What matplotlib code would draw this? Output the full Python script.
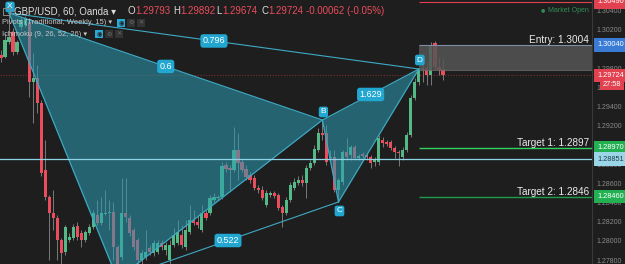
import matplotlib
matplotlib.use('Agg')
import matplotlib.pyplot as plt
from matplotlib.patches import Rectangle, Polygon

plt.rcParams['font.family'] = ['Liberation Sans', 'DejaVu Sans']

# ---------------------------------------------------------------------------
# GBP/USD 60 min candles
# ---------------------------------------------------------------------------
opens = [1.29936, 1.29915, 1.30071, 1.30175, 1.29967, 1.30228, 1.30249, 1.30280, 1.29655, 1.29697,
         1.29436, 1.28738, 1.28457, 1.28290, 1.28238, 1.28009, 1.27884, 1.28009, 1.28030, 1.28154,
         1.28082, 1.28009, 1.28082, 1.28144, 1.28269, 1.28186, 1.28279, 1.28290, 1.28300, 1.27936,
         1.27832, 1.28290, 1.28238, 1.28113, 1.28009, 1.27801, 1.27832, 1.27926, 1.27874, 1.27884,
         1.27978, 1.27905, 1.27801, 1.27957, 1.27978, 1.28061, 1.27936, 1.28092, 1.28217, 1.28196,
         1.28113, 1.28290, 1.28290, 1.28426, 1.28447, 1.28457, 1.28790, 1.28759, 1.28738, 1.28946,
         1.28821, 1.28748, 1.28686, 1.28655, 1.28551, 1.28530, 1.28374, 1.28478, 1.28499, 1.28478,
         1.28353, 1.28290, 1.28426, 1.28551, 1.28603, 1.28634, 1.28603, 1.28759, 1.28811, 1.28946,
         1.29124, 1.29124, 1.28863, 1.28873, 1.28530, 1.28613, 1.28925, 1.28894, 1.28977, 1.28863,
         1.28904, 1.28894, 1.28873, 1.28821, 1.28821, 1.29051, 1.29030, 1.29030, 1.28967, 1.28925,
         1.28873, 1.28946, 1.29103, 1.29488, 1.29655, 1.29780, 1.29800, 1.29728, 1.30061, 1.29811,
         1.29793]
highs = [1.29988, 1.30165, 1.30374, 1.30218, 1.30092, 1.30342, 1.30342, 1.30322, 1.29957, 1.29832,
         1.29467, 1.29051, 1.28478, 1.28530, 1.28269, 1.28030, 1.28165, 1.28082, 1.28175, 1.28196,
         1.28113, 1.28113, 1.28175, 1.28321, 1.28426, 1.28457, 1.28530, 1.28426, 1.28405, 1.27957,
         1.28655, 1.28655, 1.28269, 1.28134, 1.28030, 1.27905, 1.28113, 1.27957, 1.28009, 1.28009,
         1.28009, 1.27988, 1.28009, 1.28134, 1.28217, 1.28165, 1.28217, 1.28374, 1.28321, 1.28269,
         1.28374, 1.28321, 1.28478, 1.28499, 1.28478, 1.28821, 1.28821, 1.28790, 1.29186, 1.29124,
         1.28863, 1.28790, 1.28717, 1.28686, 1.28582, 1.28571, 1.28530, 1.28520, 1.28520, 1.28499,
         1.28374, 1.28457, 1.28613, 1.28655, 1.28676, 1.28686, 1.28790, 1.28842, 1.28998, 1.29176,
         1.29259, 1.29207, 1.28946, 1.28946, 1.28655, 1.28946, 1.29072, 1.28998, 1.28998, 1.28904,
         1.28925, 1.28915, 1.28894, 1.28873, 1.29103, 1.29082, 1.29051, 1.29051, 1.28988, 1.28946,
         1.28977, 1.29134, 1.29519, 1.29697, 1.29790, 1.29863, 1.29863, 1.30071, 1.30082, 1.29915,
         1.29892]
lows = [1.29863, 1.29905, 1.30050, 1.29936, 1.29946, 1.30196, 1.30228, 1.29498, 1.29228, 1.29332,
        1.28675, 1.28426, 1.27801, 1.28113, 1.27801, 1.27740, 1.27853, 1.27988, 1.28009, 1.28009,
        1.27936, 1.27988, 1.28061, 1.28123, 1.28165, 1.28165, 1.28269, 1.28113, 1.27801, 1.27602,
        1.27801, 1.28196, 1.28050, 1.27905, 1.27740, 1.27760, 1.27801, 1.27853, 1.27842, 1.27863,
        1.27905, 1.27853, 1.27738, 1.27936, 1.27957, 1.27926, 1.27905, 1.28071, 1.28165, 1.28134,
        1.28092, 1.28217, 1.28269, 1.28405, 1.28426, 1.28436, 1.28717, 1.28530, 1.28717, 1.28634,
        1.28717, 1.28634, 1.28603, 1.28530, 1.28499, 1.28426, 1.28353, 1.28457, 1.28447, 1.28321,
        1.28144, 1.28269, 1.28405, 1.28530, 1.28582, 1.28571, 1.28447, 1.28738, 1.28790, 1.28925,
        1.29051, 1.28790, 1.28842, 1.28509, 1.28405, 1.28582, 1.28842, 1.28842, 1.28842, 1.28842,
        1.28863, 1.28842, 1.28759, 1.28780, 1.28790, 1.28977, 1.28988, 1.28946, 1.28863, 1.28780,
        1.28842, 1.28925, 1.29082, 1.29467, 1.29623, 1.29655, 1.29623, 1.29623, 1.29780, 1.29728,
        1.29674]
closes = [1.29905, 1.30092, 1.30123, 1.29967, 1.30071, 1.30301, 1.30322, 1.29655, 1.29697, 1.29436,
          1.28707, 1.28457, 1.28290, 1.28238, 1.28009, 1.27874, 1.28144, 1.28040, 1.28144, 1.28040,
          1.28009, 1.28092, 1.28144, 1.28290, 1.28186, 1.28290, 1.28290, 1.28300, 1.27936, 1.27696,
          1.28290, 1.28248, 1.28082, 1.27936, 1.27801, 1.27874, 1.27884, 1.27884, 1.27978, 1.27978,
          1.27936, 1.27957, 1.27957, 1.28061, 1.28092, 1.27957, 1.28113, 1.28217, 1.28186, 1.28165,
          1.28290, 1.28238, 1.28447, 1.28457, 1.28457, 1.28779, 1.28748, 1.28738, 1.28946, 1.28811,
          1.28738, 1.28665, 1.28634, 1.28551, 1.28530, 1.28447, 1.28499, 1.28499, 1.28468, 1.28342,
          1.28290, 1.28426, 1.28582, 1.28613, 1.28634, 1.28603, 1.28759, 1.28811, 1.28957, 1.29124,
          1.29103, 1.28821, 1.28873, 1.28530, 1.28634, 1.28925, 1.28873, 1.28977, 1.28863, 1.28884,
          1.28884, 1.28873, 1.28811, 1.28842, 1.29072, 1.29020, 1.29009, 1.28967, 1.28925, 1.28915,
          1.28946, 1.29103, 1.29488, 1.29655, 1.29780, 1.29800, 1.29728, 1.30040, 1.29811, 1.29780,
          1.29724]

# harmonic pattern pivots: (bar index, price)
pattern_names = ['X', 'A', 'B', 'C', 'D']
pattern_bars = [2, 29, 80, 84, 104]
pattern_prices = [1.30374, 1.27602, 1.29259, 1.28405, 1.29790]
# ratio labels sit on the mid point of these legs
ratio_legs = [('X', 'D', '0.796'), ('X', 'B', '0.6'), ('B', 'D', '1.629'), ('A', 'C', '0.522')]

entry = 1.3004
zone_low = 1.2978
target1 = 1.2897
target2 = 1.2846
pivot_r = 1.3049
last_price = 1.29724
cross_price = 1.28851
yticks = [1.278, 1.280, 1.282, 1.284, 1.286, 1.288, 1.290, 1.292, 1.294, 1.296,
          1.298, 1.300, 1.302, 1.304]
hidden_ticks = [1.290, 1.300]   # fully covered by the price tags

BG = '#1e1e1e'
UP, DOWN, WICK = '#53b987', '#eb4d5c', '#7a7a7a'
PAT_FILL, PAT_LINE, PAT_LABEL = '#2a9cb2', '#3ea9c4', '#22a7d0'

W, H = 625, 264
fig = plt.figure(figsize=(W / 100, H / 100), dpi=100, facecolor=BG)
ax = fig.add_axes([0, 0, 592 / W, 1], facecolor=BG)

n = len(opens)
xs = list(range(n))
x_right = 147.1

# candles
for i in xs:
    o, h, l, c = opens[i], highs[i], lows[i], closes[i]
    col = UP if c >= o else DOWN
    ax.vlines(i, l, h, color=WICK, lw=0.7, zorder=2)
    ax.bar(i, max(abs(c - o), 0.00003), bottom=min(o, c), width=0.8,
           color=col, lw=0, zorder=2.5)

# horizontal lines
ax.axhline(last_price, color='#7a2c33', lw=0.8, ls=(0, (1, 1.5)), zorder=1)
ax.axhline(cross_price, color='#8fd3e6', lw=0.9, zorder=6)

# harmonic pattern
pts = {k: (b, p) for k, b, p in zip(pattern_names, pattern_bars, pattern_prices)}
for tri in (('X', 'A', 'B'), ('B', 'C', 'D')):
    ax.add_patch(Polygon([pts[k] for k in tri], closed=True, fc=PAT_FILL,
                         alpha=0.55, lw=0, zorder=3))
for a, b in zip(pattern_names[:-1], pattern_names[1:]):
    ax.plot([pts[a][0], pts[b][0]], [pts[a][1], pts[b][1]], color=PAT_LINE, lw=0.9, zorder=4)
for a, b, txt in ratio_legs:
    ax.plot([pts[a][0], pts[b][0]], [pts[a][1], pts[b][1]], color=PAT_LINE, lw=0.8, zorder=4)
    mx = (pts[a][0] + pts[b][0]) / 2
    my = (pts[a][1] + pts[b][1]) / 2
    ax.text(mx, my, txt, color='white', fontsize=6.5, ha='center', va='center', zorder=7,
            bbox=dict(boxstyle='round,pad=0.25,rounding_size=0.3', fc=PAT_LABEL, ec='none'))
label_off = {'X': 6, 'A': -9, 'B': 8, 'C': -9, 'D': 9}
for k in pattern_names:
    if k == 'A':
        continue
    ax.annotate(k, pts[k], xytext=(1, label_off[k]), textcoords='offset pixels',
                color='white', fontsize=6, ha='center', va='center', zorder=8,
                bbox=dict(boxstyle='round,pad=0.22,rounding_size=0.25', fc=PAT_LABEL, ec='none'))

# entry zone + targets
d_bar = pts['D'][0]
ax.add_patch(Rectangle((d_bar, zone_low), x_right - d_bar, entry - zone_low,
                       fc='#555555', ec='none', alpha=0.85, zorder=3))
ax.hlines(entry, d_bar, x_right, color='#7f8ea6', lw=0.8, zorder=4)
ax.hlines(zone_low, d_bar, x_right, color='#6a6a6a', lw=0.6, zorder=4)
ax.hlines(target1, d_bar, x_right, color='#2fd160', lw=1.0, zorder=4)
ax.hlines(target2, d_bar, x_right, color='#1f9a4a', lw=1.0, zorder=4)
ax.hlines(pivot_r, d_bar, x_right, color='#e2414f', lw=0.8, zorder=4)
for price, txt in ((entry, 'Entry: 1.3004'), (target1, 'Target 1: 1.2897'),
                   (target2, 'Target 2: 1.2846')):
    ax.annotate(txt, (x_right, price), xytext=(-3, 5), textcoords='offset pixels',
                color='#ececec', fontsize=7.2, ha='right', va='center', zorder=8)

ax.set_xlim(-0.25, x_right)
ax.set_ylim(1.2775875, 1.3050875)
ax.set_xticks([])
ax.yaxis.tick_right()
ax.set_yticks(yticks)
ax.set_yticklabels(['' if t in hidden_ticks else f'{t:.5f}' for t in yticks])
ax.tick_params(axis='y', length=0, pad=3.5, labelsize=5, labelcolor='#8a8a8a')
for side in ('top', 'left', 'bottom'):
    ax.spines[side].set_visible(False)
ax.spines['right'].set_color('#3a3a3a')
ax.spines['right'].set_linewidth(0.8)

# price scale tags
yt = ax.get_yaxis_transform()
tags = [(pivot_r, '1.30490', '#e2414f', 'white'),
        (entry, '1.30040', '#3a7bd5', 'white'),
        (last_price, '1.29724', '#e2414f', 'white'),
        (target1, '1.28970', '#22b052', 'white'),
        (cross_price, '1.28851', '#9ad6e8', '#1e3f4a'),
        (target2, '1.28460', '#22b052', 'white')]
for price, txt, fc, tc in tags:
    ax.text(1.0 + 5 / 592, price, txt, transform=yt, ha='left', va='center',
            fontsize=5.3, color=tc, clip_on=False, zorder=9,
            bbox=dict(boxstyle='square,pad=0.45', fc=fc, ec='none'))
ax.annotate('27:58', (1.0, last_price), xycoords=yt, xytext=(11, -9),
            textcoords='offset pixels', ha='left', va='center', fontsize=5.3,
            color='white', annotation_clip=False, zorder=9,
            bbox=dict(boxstyle='square,pad=0.35', fc='#e2414f', ec='none'))

# ---------------------------------------------------------------------------
# legend / header texts (figure pixel positions)
# ---------------------------------------------------------------------------
def fx(x):
    return x / W


def fy(y):
    return 1 - y / H


fig.patches.append(Rectangle((fx(3), fy(15)), 7 / W, 7 / H, transform=fig.transFigure,
                             fc='none', ec='#8a8a8a', lw=0.7))
fig.text(fx(14), fy(11), 'GBP/USD, 60, Oanda \u25be', color='#dcdcdc', fontsize=7, va='center')
pieces = [(128, 'O', '#dcdcdc'), (135, '1.29793', DOWN), (173, 'H', '#dcdcdc'),
          (180, '1.29892', DOWN), (216, 'L', '#dcdcdc'), (222, '1.29674', DOWN),
          (261, 'C', '#dcdcdc'), (268, '1.29724', DOWN), (306, '-0.00062 (-0.05%)', DOWN)]
for x, txt, col in pieces:
    fig.text(fx(x), fy(11), txt, color=col, fontsize=7, va='center')

for y, txt, ix in ((23, 'Pivots (Traditional, Weekly, 15) \u25be', 117),
                   (34, 'Ichimoku (9, 26, 52, 26) \u25be', 95)):
    fig.text(fx(2), fy(y), txt, color='#c8c8c8', fontsize=5.4, va='center')
    for k, (fc, glyph) in enumerate((('#2aa8d6', '\u25c9'), ('#333333', '\u2699'),
                                     ('#333333', '\u2715'))):
        x0 = ix + k * 10
        fig.patches.append(Rectangle((fx(x0), fy(y + 4)), 8 / W, 8 / H,
                                     transform=fig.transFigure, fc=fc, ec='none'))
        fig.text(fx(x0 + 4), fy(y), glyph, color='#1e1e1e' if k == 0 else '#6a6a6a',
                 fontsize=4.5, ha='center', va='center', family='DejaVu Sans')

fig.text(fx(541), fy(10), '\u25cf', color='#2f8f57', fontsize=3.5, va='center',
         family='DejaVu Sans')
fig.text(fx(548), fy(10), 'Market Open', color='#2f8f57', fontsize=5, va='center')

fig.savefig('out.png', dpi=100, facecolor=BG)
